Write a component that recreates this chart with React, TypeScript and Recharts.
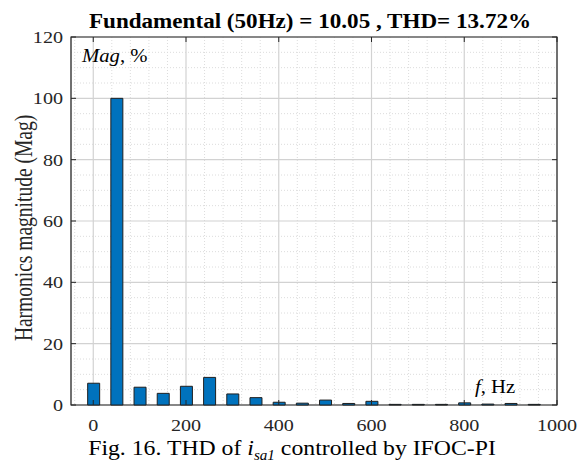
import React from "react";
import { BarChart, Bar, XAxis, YAxis, CartesianGrid, ReferenceArea } from "recharts";

// harmonic spectrum, % of fundamental
const freqs = [0, 50, 100, 150, 200, 250, 300, 350, 400, 450, 500, 550, 600, 650, 700, 750, 800, 850, 900, 950];
const mags = [7.1, 100, 5.8, 3.8, 6.1, 9.0, 3.6, 2.4, 0.9, 0.6, 1.6, 0.5, 1.2, 0.2, 0.2, 0.2, 0.7, 0.3, 0.5, 0.2];

const xTicks = [0, 200, 400, 600, 800, 1000];
const yTicks = [0, 20, 40, 60, 80, 100, 120];
const xMinor = [-40, 40, 80, 120, 160, 240, 280, 320, 360, 440, 480, 520, 560, 640, 680, 720, 760, 840, 880, 920, 960];
const yMinor = [5, 10, 15, 25, 30, 35, 45, 50, 55, 65, 70, 75, 85, 90, 95, 105, 110, 115];

const title = "Fundamental (50Hz) = 10.05 , THD= 13.72%";
const yLabel = "Harmonics magnitude (Mag)";

const data = freqs.map((f, i) => ({ f, mag: mags[i] }));

const X_DOMAIN: [number, number] = [-48, 1000];
const Y_DOMAIN: [number, number] = [0, 120];

const W = 578;
const H = 462;
const TOP = 37;
const BOTTOM = 405;
const LEFT = 71;
const RIGHT = 557;
const FONT = "'Liberation Serif', 'Times New Roman', serif";
const SX = 1.15; // text is a little wide

// minor grid positions from the plot offset and the axis domains
const minorX = ({ offset }: any) =>
  xMinor.map((v) => offset.left + ((v - X_DOMAIN[0]) / (X_DOMAIN[1] - X_DOMAIN[0])) * offset.width);
const minorY = ({ offset }: any) =>
  yMinor.map((v) => offset.top + offset.height - ((v - Y_DOMAIN[0]) / (Y_DOMAIN[1] - Y_DOMAIN[0])) * offset.height);

const XTick = (props: any) => {
  const { x, payload } = props;
  return (
    <g>
      <line x1={x} x2={x} y1={BOTTOM} y2={BOTTOM - 5} stroke="#262626" />
      <line x1={x} x2={x} y1={TOP} y2={TOP + 5} stroke="#262626" />
      <text
        transform={`translate(${x},${BOTTOM + 26}) scale(${SX},1)`}
        textAnchor="middle"
        fontSize={17.5}
        fontFamily={FONT}
        fill="#262626"
      >
        {payload.value}
      </text>
    </g>
  );
};

const YTick = (props: any) => {
  const { y, payload } = props;
  return (
    <g>
      <line x1={LEFT} x2={LEFT + 5} y1={y} y2={y} stroke="#262626" />
      <line x1={RIGHT} x2={RIGHT - 5} y1={y} y2={y} stroke="#262626" />
      <text
        transform={`translate(${LEFT - 8},${y + 6}) scale(${SX},1)`}
        textAnchor="end"
        fontSize={17.5}
        fontFamily={FONT}
        fill="#262626"
      >
        {payload.value}
      </text>
    </g>
  );
};

export default function App() {
  return (
    <div style={{ position: "absolute", left: 0, top: 0, width: W, height: H, background: "#fff" }}>
      <BarChart width={W} height={H} data={data} margin={{ top: TOP, right: W - RIGHT, left: 0, bottom: 0 }}>
        {/* minor grid, dotted */}
        <CartesianGrid
          stroke="#dcdcdc"
          strokeDasharray="1 2"
          verticalCoordinatesGenerator={minorX}
          horizontalCoordinatesGenerator={minorY}
        />
        {/* major grid */}
        <CartesianGrid stroke="#d2d2d2" strokeWidth={1.2} />
        <XAxis
          dataKey="f"
          type="number"
          domain={X_DOMAIN}
          ticks={xTicks}
          allowDataOverflow
          height={H - BOTTOM}
          tickSize={0}
          axisLine={false}
          tick={<XTick />}
          interval={0}
        />
        <YAxis
          type="number"
          domain={Y_DOMAIN}
          ticks={yTicks}
          width={LEFT}
          tickSize={0}
          axisLine={false}
          tick={<YTick />}
          interval={0}
        />
        <Bar dataKey="mag" fill="#0072BD" stroke="#1f1f1f" strokeWidth={1} barSize={12} isAnimationActive={false} />
        <ReferenceArea x1={X_DOMAIN[0]} x2={X_DOMAIN[1]} y1={0} y2={120} fill="none" stroke="#262626" strokeWidth={1.2} ifOverflow="visible" />
      </BarChart>

      {/* titles and annotations */}
      <svg width={W} height={H} style={{ position: "absolute", left: 0, top: 0, pointerEvents: "none" }} fontFamily={FONT}>
        <text transform={`translate(310,28) scale(1.1,1)`} textAnchor="middle" fontSize={21} fontWeight="bold" fill="#000">
          {title}
        </text>
        <text transform="translate(32,228) rotate(-90) scale(1,1.25)" textAnchor="middle" fontSize={19.5} fill="#262626">
          {yLabel}
        </text>
        <text transform={`translate(82,62) scale(${SX},1)`} fontSize={18} fill="#000">
          <tspan fontStyle="italic">Mag</tspan>, %
        </text>
        <text transform={`translate(475,393) scale(${SX},1)`} fontSize={18} fill="#000">
          <tspan fontStyle="italic">f</tspan>, Hz
        </text>
        <text transform="translate(292,455) scale(1.08,1)" textAnchor="middle" fontSize={22} fill="#000">
          Fig. 16. THD of <tspan fontStyle="italic">i</tspan>
          <tspan fontStyle="italic" fontSize={14} dy={5}>sa1</tspan>
          <tspan dy={-5}> controlled by IFOC-PI</tspan>
        </text>
      </svg>
    </div>
  );
}
